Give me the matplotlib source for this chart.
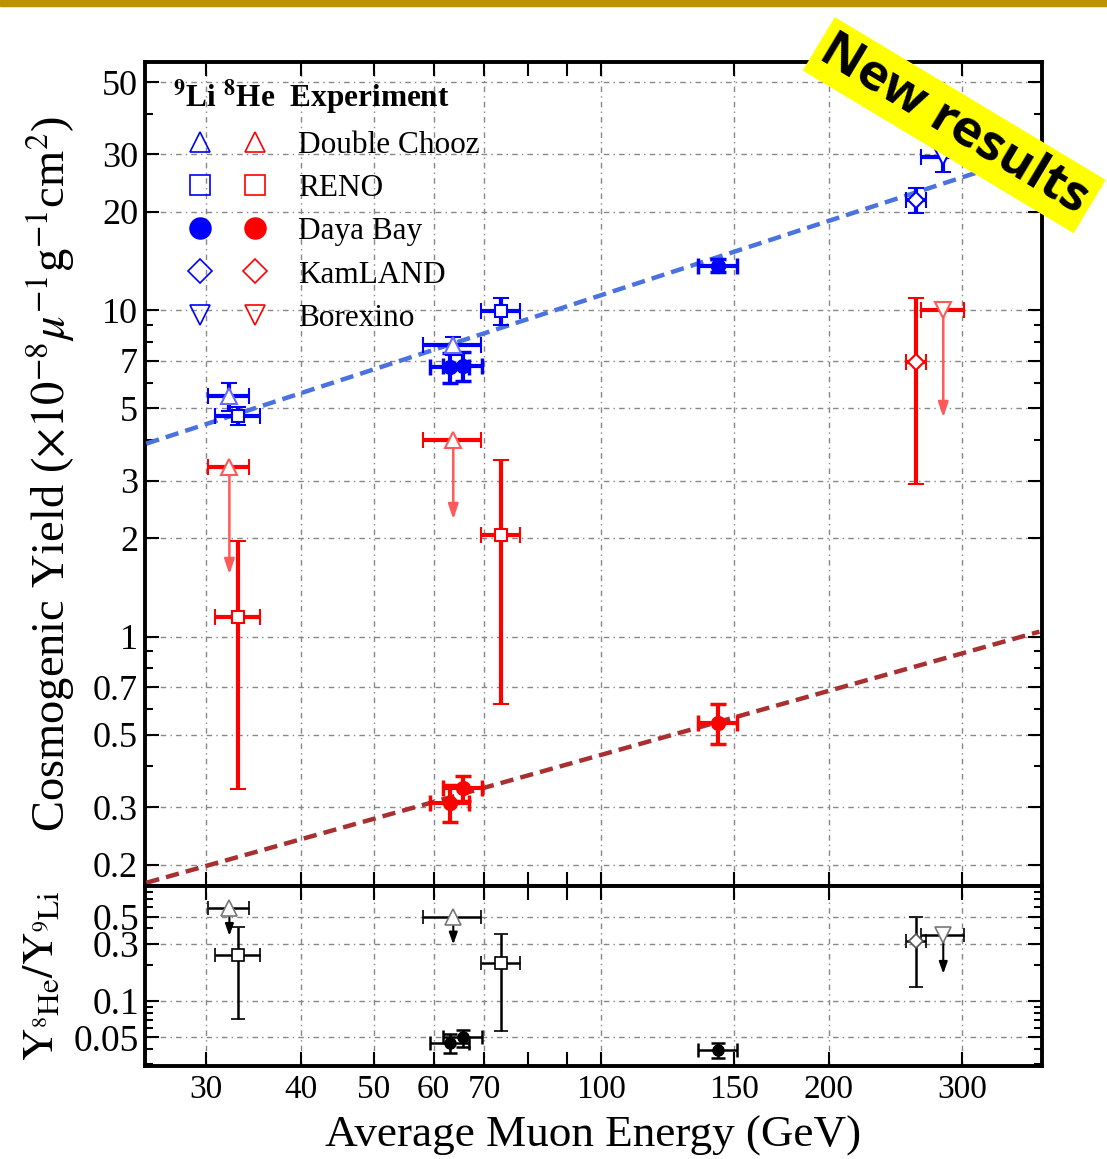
import matplotlib
matplotlib.use('Agg')
import matplotlib.pyplot as plt
from matplotlib.lines import Line2D
from matplotlib.legend_handler import HandlerTuple
from matplotlib.patches import Rectangle
from matplotlib.ticker import FixedLocator, NullFormatter, FixedFormatter

plt.rcParams['font.family'] = ['Liberation Serif', 'DejaVu Serif']
plt.rcParams['mathtext.fontset'] = 'stix'

# ---------------- data ----------------
experiments = ['Double Chooz', 'RENO', 'Daya Bay', 'KamLAND', 'Borexino']

# Double Chooz (two sites) -- 8He only upper limits
dc_E = [32.2, 63.7]
dc_Eerr = [2.0, 5.6]
dc_li = [5.45, 7.8]
dc_li_err = [0.55, 0.5]
dc_he_lim = [3.3, 4.0]
dc_he_arrow_to = [1.52, 2.24]
dc_ratio_lim = [0.59, 0.50]
dc_ratio_arrow_to = [0.33, 0.28]

# RENO (near, far)
reno_E = [33.1, 73.7]
reno_Eerr = [2.3, 4.4]
reno_li = [4.75, 9.94]
reno_li_err = [0.3, 0.95]
reno_he = [1.15, 2.05]
reno_he_err = [0.81, 1.43]
reno_ratio = [0.241, 0.207]
reno_ratio_err = [0.17, 0.15]

# Daya Bay (EH1, EH2, EH3)
db_E = [63.1, 65.7, 142.9]
db_Eerr = [3.8, 3.9, 8.5]
db_li = [6.7, 6.75, 13.7]
db_li_err = [0.7, 0.7, 0.6]
db_he = [0.31, 0.344, 0.545]
db_he_err = [0.04, 0.03, 0.075]
db_ratio = [0.0454, 0.050, 0.0395]
db_ratio_err = [0.008, 0.008, 0.0055]

# KamLAND
kl_E = [260.8]
kl_Eerr = [8.0]
kl_li = [21.8]
kl_li_err = [1.9]
kl_he = [6.93]
kl_he_err = [4.0]
kl_ratio = [0.316]
kl_ratio_err = [0.185]

# Borexino -- 8He upper limit
bx_E = [283.5]
bx_Eerr = [18.5]
bx_li = [29.5]
bx_li_err = [3.0]
bx_he_lim = [10.0]
bx_he_arrow_to = [4.6]
bx_ratio_lim = [0.35]
bx_ratio_arrow_to = [0.16]

# power-law fit lines (end points)
fit_E = [25.0, 380.0]
fit_li = [3.9, 30.5]
fit_he = [0.176, 1.035]

x_ticks = [30, 40, 50, 60, 70, 100, 150, 200, 300]
x_minor = [80, 90]
y_ticks = [0.2, 0.3, 0.5, 0.7, 1, 2, 3, 5, 7, 10, 20, 30, 50]
y_tick_labels = ['0.2', '0.3', '0.5', '0.7', '1', '2', '3', '5', '7', '10', '20', '30', '50']
y_minor = [0.4, 0.6, 0.8, 0.9, 4, 6, 8, 9, 40]
r_ticks = [0.05, 0.1, 0.3, 0.5]
r_tick_labels = ['0.05', '0.1', '0.3', '0.5']
r_minor = [0.03, 0.04, 0.06, 0.07, 0.08, 0.09, 0.2, 0.4, 0.6, 0.7, 0.8, 0.9]

# ---------------- figure ----------------
W, H = 1107, 1159
fig = plt.figure(figsize=(W / 100, H / 100), dpi=100)
L, R = 145 / W, 1042 / W
ax = fig.add_axes([L, 1 - 886 / H, R - L, (886 - 62) / H])
axr = fig.add_axes([L, 1 - 1066 / H, R - L, (1066 - 886) / H], sharex=ax)

BLUE = '#0000ff'
RED = '#ff0000'
LBLUE = '#6a6aff'
LRED = '#ff5a5a'

eb = dict(ls='none', elinewidth=3, capsize=5.5, capthick=2.5)

# --- 9Li (blue)
ax.errorbar(dc_E, dc_li, xerr=dc_Eerr, yerr=dc_li_err, color=BLUE, marker='^', ms=12,
            mfc='white', mec=LBLUE, mew=1.5, zorder=5, **eb)
ax.errorbar(reno_E, reno_li, xerr=reno_Eerr, yerr=reno_li_err, color=BLUE, marker='s', ms=9,
            mfc='white', mec=BLUE, mew=1.5, zorder=5, **eb)
ax.errorbar(db_E, db_li, xerr=db_Eerr, yerr=db_li_err, color=BLUE, marker='o', ms=10,
            mfc=BLUE, mec=BLUE, zorder=5, **eb)
ax.errorbar(kl_E, kl_li, xerr=kl_Eerr, yerr=kl_li_err, color=BLUE, marker='D', ms=8,
            mfc='white', mec=BLUE, mew=1.5, zorder=5, **eb)
ax.errorbar(bx_E, bx_li, xerr=bx_Eerr, yerr=bx_li_err, color=BLUE, marker='v', ms=12,
            mfc='white', mec=BLUE, mew=1.5, zorder=5, **eb)

# --- 8He (red)
ax.errorbar(reno_E, reno_he, xerr=reno_Eerr, yerr=reno_he_err, color=RED, marker='s', ms=9,
            mfc='white', mec=RED, mew=1.5, zorder=5, **eb)
ax.errorbar(db_E, db_he, xerr=db_Eerr, yerr=db_he_err, color=RED, marker='o', ms=10,
            mfc=RED, mec=RED, zorder=5, **eb)
ax.errorbar(kl_E, kl_he, xerr=kl_Eerr, yerr=kl_he_err, color=RED, marker='D', ms=8,
            mfc='white', mec=RED, mew=1.5, zorder=5, **eb)
for E, y0, y1 in zip(dc_E, dc_he_lim, dc_he_arrow_to):
    ax.annotate('', xy=(E, y1), xytext=(E, y0),
                arrowprops=dict(arrowstyle='-|>,head_length=0.9,head_width=0.3', color=LRED, lw=1.8),
                zorder=4)
for E, y0, y1 in zip(bx_E, bx_he_lim, bx_he_arrow_to):
    ax.annotate('', xy=(E, y1), xytext=(E, y0),
                arrowprops=dict(arrowstyle='-|>,head_length=0.9,head_width=0.3', color=LRED, lw=1.8),
                zorder=4)
ax.errorbar(dc_E, dc_he_lim, xerr=dc_Eerr, color=RED, marker='^', ms=12,
            mfc='white', mec=LRED, mew=1.5, zorder=5, **eb)
ax.errorbar(bx_E, bx_he_lim, xerr=bx_Eerr, color=RED, marker='v', ms=12,
            mfc='white', mec=LRED, mew=1.5, zorder=5, **eb)

# fit lines
ax.plot(fit_E, fit_li, color='#4a72e0', lw=3.2, ls=(0, (3, 1.6)), zorder=3)
ax.plot(fit_E, fit_he, color='#a83030', lw=3.2, ls=(0, (3, 1.6)), zorder=3)

# --- ratio panel
ebr = dict(ls='none', color='black', elinewidth=1.8, capsize=5, capthick=1.8)
axr.errorbar(reno_E, reno_ratio, xerr=reno_Eerr, yerr=reno_ratio_err, marker='s', ms=8,
             mfc='white', mec='black', mew=1.2, zorder=5, **ebr)
axr.errorbar(db_E, db_ratio, xerr=db_Eerr, yerr=db_ratio_err, marker='o', ms=8,
             mfc='black', mec='black', zorder=5, **ebr)
axr.errorbar(kl_E, kl_ratio, xerr=kl_Eerr, yerr=kl_ratio_err, marker='D', ms=7,
             mfc='white', mec='#555555', mew=1.2, zorder=5, **ebr)
for E, y0, y1 in list(zip(dc_E, dc_ratio_lim, dc_ratio_arrow_to)) + list(zip(bx_E, bx_ratio_lim, bx_ratio_arrow_to)):
    axr.annotate('', xy=(E, y1), xytext=(E, y0),
                 arrowprops=dict(arrowstyle='-|>,head_length=0.7,head_width=0.25', color='black', lw=1.5),
                 zorder=4)
axr.errorbar(dc_E, dc_ratio_lim, xerr=dc_Eerr, marker='^', ms=11,
             mfc='white', mec='#777777', mew=1.2, zorder=5, **ebr)
axr.errorbar(bx_E, bx_ratio_lim, xerr=bx_Eerr, marker='v', ms=11,
             mfc='white', mec='#777777', mew=1.2, zorder=5, **ebr)

# --- axes formatting
grid_kw = dict(color='#888888', lw=1.0, ls=(0, (4, 3, 1, 3)))
for a in (ax, axr):
    a.set_xscale('log')
    a.set_yscale('log')
    a.set_xlim(24.9, 383)
    a.xaxis.set_major_locator(FixedLocator(x_ticks))
    a.xaxis.set_minor_locator(FixedLocator(x_minor))
    a.xaxis.set_minor_formatter(NullFormatter())
    a.grid(True, which='major', **grid_kw)
    a.tick_params(which='both', direction='in', top=True, right=True, width=1.5)
    a.tick_params(which='major', length=10)
    a.tick_params(axis='x', which='minor', length=10)
    a.tick_params(axis='y', which='minor', length=6)
    for s in a.spines.values():
        s.set_linewidth(2.8)

ax.set_ylim(0.172, 57.6)
ax.yaxis.set_major_locator(FixedLocator(y_ticks))
ax.yaxis.set_major_formatter(FixedFormatter(y_tick_labels))
ax.yaxis.set_minor_locator(FixedLocator(y_minor))
ax.yaxis.set_minor_formatter(NullFormatter())
ax.tick_params(axis='x', labelbottom=False)
ax.tick_params(axis='y', labelsize=26, pad=5)

axr.set_ylim(0.029, 0.9)
axr.yaxis.set_major_locator(FixedLocator(r_ticks))
axr.yaxis.set_major_formatter(FixedFormatter(r_tick_labels))
axr.yaxis.set_minor_locator(FixedLocator(r_minor))
axr.yaxis.set_minor_formatter(NullFormatter())
axr.xaxis.set_major_formatter(FixedFormatter([str(v) for v in x_ticks]))
axr.tick_params(axis='x', labelsize=24, pad=6)
axr.tick_params(axis='y', labelsize=27, pad=4)

ax.set_ylabel(r'Cosmogenic Yield ($\times10^{-8}\mu^{-1}$g$^{-1}$cm$^{2}$)', fontsize=33.5)
axr.set_ylabel(r'$\mathrm{Y}_{^{8}\mathrm{He}}/\mathrm{Y}_{^{9}\mathrm{Li}}$', fontsize=32)
axr.set_xlabel('Average Muon Energy (GeV)', fontsize=32.5, labelpad=8)
ax.yaxis.set_label_coords(-0.076, 0.5)
axr.yaxis.set_label_coords(-0.092, 0.5)

# --- legend (two marker columns: 9Li, 8He)
mk = ['^', 's', 'o', 'D', 'v']
msz = [15, 14, 15, 12, 15]
handles = []
for m, s in zip(mk, msz):
    filled = (m == 'o')
    hb = Line2D([], [], ls='none', marker=m, ms=s, mec=BLUE, mew=1.2,
                mfc=BLUE if filled else 'none')
    hr = Line2D([], [], ls='none', marker=m, ms=s, mec=RED, mew=1.2,
                mfc=RED if filled else 'none')
    handles.append((hb, hr))
leg = ax.legend(handles, experiments, handler_map={tuple: HandlerTuple(ndivide=None, pad=0)},
                title=r'$^{\mathbf{9}}$Li $^{\mathbf{8}}$He  Experiment',
                title_fontproperties={'weight': 'bold', 'size': 22.5}, alignment='left',
                fontsize=22.5, frameon=False, loc='upper left', bbox_to_anchor=(0.031, 0.9815),
                borderaxespad=0, borderpad=0, handlelength=3.52, handletextpad=0.50,
                labelspacing=0.43, handleheight=0.8)

# --- decorations
fig.add_artist(Rectangle((0, 1 - 6 / H), 1, 6 / H, transform=fig.transFigure,
                         color='#bf9000', zorder=10))
fig.text(0.862, 0.892, 'New results', rotation=-31, rotation_mode='anchor', ha='center', va='center',
         fontsize=37, fontweight='bold', family=['Open Sans', 'DejaVu Sans'], color='black', zorder=20,
         bbox=dict(boxstyle='square,pad=0.12', fc='#ffff00', ec='none'))

fig.savefig('out.png', dpi=100)
